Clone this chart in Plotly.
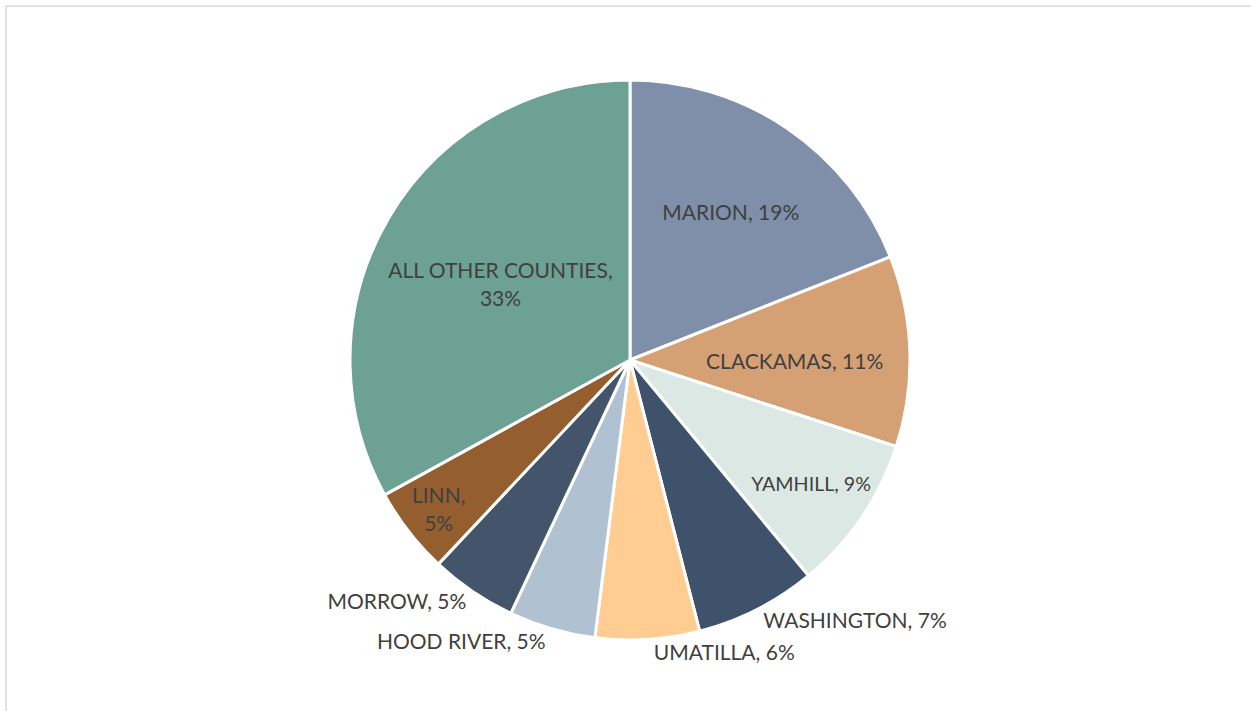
import plotly.graph_objects as go

# county share of total, clockwise from 12 o'clock
counties = ['MARION', 'CLACKAMAS', 'YAMHILL', 'WASHINGTON', 'UMATILLA',
            'HOOD RIVER', 'MORROW', 'LINN', 'ALL OTHER COUNTIES']
shares = [19, 11, 9, 7, 6, 5, 5, 5, 33]
colours = ['#7F8FA9', '#D5A073', '#DCE8E4', '#3F526C', '#FFCC92',
           '#B0C2D2', '#44546A', '#955E2E', '#6DA193']
label_pos = ['inside', 'inside', 'inside', 'outside', 'outside',
             'outside', 'outside', 'inside', 'inside']
# break the label onto two lines for the narrow / wide slices on the left
two_line = ['LINN', 'ALL OTHER COUNTIES']

templates = [
    '%{label},<br>%{percent:.0%}' if c in two_line else '%{label}, %{percent:.0%}'
    for c in counties]

W, H = 1251, 711

fig = go.Figure()
fig.add_trace(go.Pie(
    labels=counties, values=shares, sort=False, direction='clockwise',
    rotation=0, marker=dict(colors=colours, line=dict(color='white', width=3)),
    texttemplate=templates, textposition=label_pos,
    insidetextorientation='horizontal',
    textfont=dict(family='Lato', size=21, color='#404040'),
    domain=dict(x=[350 / W, 910 / W], y=[1 - 640 / H, 1 - 80 / H]),
    showlegend=False, hoverinfo='label+percent'))

# light grey frame round the chart area
fig.add_shape(type='rect', xref='paper', yref='paper',
              x0=6 / W, x1=1.05, y0=-0.05, y1=1 - 6 / H,
              line=dict(color='#D9D9D9', width=1.5), layer='below')

fig.update_layout(
    width=W, height=H, margin=dict(l=0, r=0, t=0, b=0),
    paper_bgcolor='white', plot_bgcolor='white',
    font=dict(family='Lato', color='#404040'))

# drop the default page margin so the figure sits at the window corner
fig.write_html('out.html', config={'displayModeBar': False},
               post_script="document.body.style.margin='0px';")
